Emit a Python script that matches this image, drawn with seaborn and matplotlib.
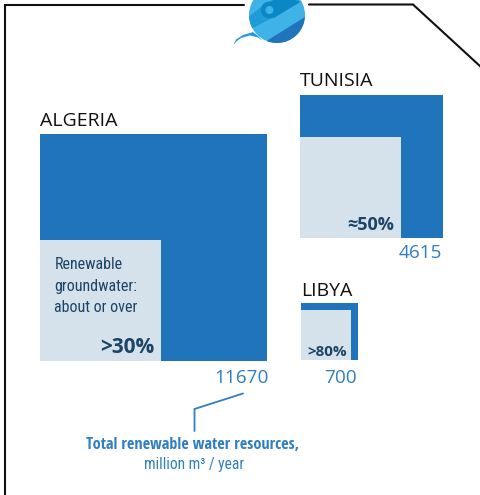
import matplotlib
matplotlib.use("Agg")
import matplotlib.pyplot as plt
from matplotlib.patches import Circle, Polygon
import numpy as np
import pandas as pd
import seaborn as sns

countries = ["ALGERIA", "TUNISIA", "LIBYA"]
total_water = [11670, 4615, 700]
ground_share = [0.284, 0.50, 0.77]
share_labels = [">30%", "≈50%", ">80%"]
total_labels = ["11670", "4615", "700"]

BLUE = "#2074BC"
PALE = "#D5E2EC"
NAVY = "#1B4466"
LABEL = "#2F7FC1"
COND = "Open Sans Condensed"
REG = "Roboto Condensed"

sns.set_theme(style="white", rc={"font.family": ["Open Sans", "DejaVu Sans"]})
W, H = 481, 495
fig = plt.figure(figsize=(W / 100, H / 100), dpi=100)
ax = fig.add_axes([0, 0, 1, 1])
PT = 72 / fig.dpi

# bottom-left anchors and pixels-per-sqrt(unit) of the squares
left = np.array([40, 300, 301])
bottom = np.array([361, 238, 360])
scale = np.array([2.101, 2.105, 2.154])

total = np.array(total_water, float)
share = np.array(ground_share, float)
side = scale * np.sqrt(total)
inner = side * np.sqrt(share)

df = pd.DataFrame({
    "country": countries,
    "x": left + side / 2, "y": bottom - side / 2,
    "ix": left + inner / 2, "iy": bottom - inner / 2,
    "area": (side * PT) ** 2, "iarea": (inner * PT) ** 2,
})
sns.scatterplot(data=df, x="x", y="y", size="country", marker="s", color=BLUE,
                sizes=dict(zip(df.country, df.area)), linewidth=0, legend=False, ax=ax, zorder=2)
sns.scatterplot(data=df, x="ix", y="iy", size="country", marker="s", color=PALE,
                sizes=dict(zip(df.country, df.iarea)), linewidth=0, legend=False, ax=ax, zorder=3)

ax.set_xlim(0, W)
ax.set_ylim(H, 0)
ax.axis("off")

# frame
ax.plot([5, 5, 244], [H, 4.5, 4.5], color="#111111", lw=1.5, zorder=1, solid_joinstyle="miter")
ax.plot([309, 413, 481], [4.5, 4.5, 67], color="#111111", lw=1.5, zorder=1, solid_joinstyle="miter")
ax.plot([0, W], [494.5, 494.5], color="#E4E4E4", lw=0.7, zorder=1)

# logo
clip = Circle((277, 15), 28, transform=ax.transData, fc="#3FB2E8", ec="none", zorder=4)
ax.add_patch(clip)
bands = [
    ([(249, 16.5), (263, 5.5), (290, -10), (300, 2), (268, 20), (253, 28), (245, 28)], "#1F9BD7"),
    ([(263, 7), (282, -5), (300, 2), (274, 18)], "#0B87C6"),
    ([(268, 40), (305, 17), (310, 50), (262, 50)], "#2074BC"),
]
for pts, col in bands:
    p = Polygon(pts, closed=True, fc=col, ec="none", zorder=5)
    ax.add_patch(p)
    p.set_clip_path(clip)
ax.add_patch(Circle((269.4, 10), 8.5, fc="#0B87C6", ec="none", zorder=5))
ax.add_patch(Circle((269.4, 10), 4, fc="#3FB2E8", ec="none", zorder=6))
ax.add_patch(Polygon([(233.5, 44.5), (236, 39.5), (243, 35), (253, 32), (258, 36), (263, 41),
                      (258, 37.5), (250, 35.5), (241, 38), (237, 41)],
                     closed=True, fc="#2A9BD8", ec="none", zorder=3))

# titles
title_xy = [(40, 126), (300, 86), (301, 296)]
for name, (x, y) in zip(countries, title_xy):
    ax.text(x, y, name, fontsize=14, color="#111111", ha="left", va="baseline", zorder=6)

# totals
tot_xy = [(269, 383), (442, 258), (357, 383)]
for t, (x, y) in zip(total_labels, tot_xy):
    ax.text(x, y, t, fontsize=13.7, color=LABEL, ha="right", va="baseline", zorder=6)

# share labels
sh_xy = [(154, 353), (394, 230), (347, 356)]
sh_fs = [15, 13, 11]
for t, (x, y), fs in zip(share_labels, sh_xy, sh_fs):
    ax.text(x, y, t, fontsize=fs, fontweight="bold", color=NAVY, ha="right", va="baseline", zorder=6)

for txt, y in [("Renewable", 269), ("groundwater:", 291), ("about or over", 312)]:
    ax.text(54.5, y, txt, family=REG, fontsize=11.5, color=NAVY, zorder=6)

# leader
ax.plot([243, 194.5, 194.5], [393.5, 409, 431], color=LABEL, lw=1.3, zorder=6, solid_joinstyle="miter")
ax.text(193, 449, "Total renewable water resources,", family=COND, fontweight="bold",
        fontsize=11.7, color=LABEL, ha="center", zorder=6)
ax.text(194.5, 469, "million m³ / year", family=REG, fontsize=11.2, color=LABEL, ha="center", zorder=6)

fig.savefig("out.png", dpi=100)
